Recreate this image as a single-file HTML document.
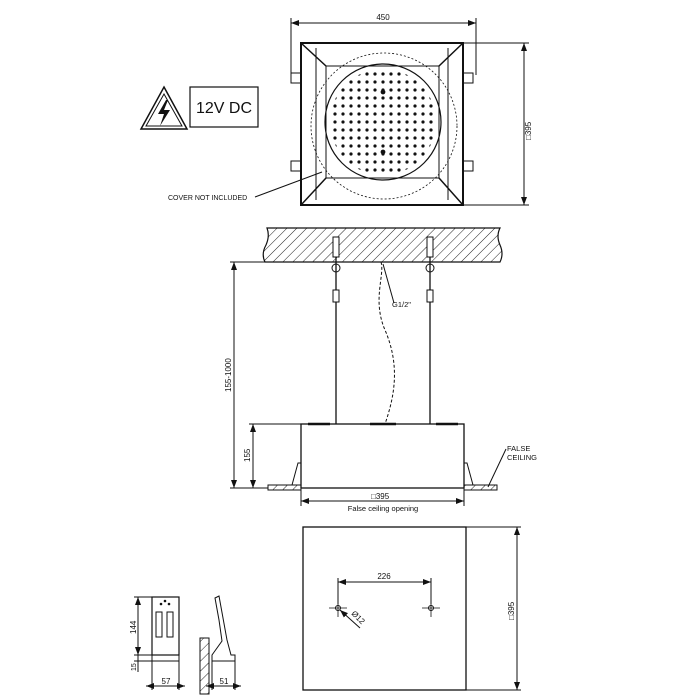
<!DOCTYPE html>
<html><head><meta charset="utf-8"><style>
html,body{margin:0;padding:0;background:#fff}
svg{display:block}
text{font-family:"Liberation Sans",sans-serif;fill:#111}
</style></head><body>
<svg width="700" height="700" viewBox="0 0 700 700" xmlns="http://www.w3.org/2000/svg">
<defs>
<pattern id="h" width="7" height="7" patternUnits="userSpaceOnUse" patternTransform="rotate(45)">
<line x1="0" y1="0" x2="0" y2="7" stroke="#222" stroke-width="1"/></pattern>
<pattern id="dp" width="8" height="8" patternUnits="userSpaceOnUse" x="379" y="118">
<circle cx="4" cy="4" r="1.6" fill="#111"/></pattern>
<clipPath id="cc"><circle cx="383" cy="122" r="53"/></clipPath>
<marker id="a" markerWidth="8" markerHeight="6" refX="8" refY="3" orient="auto-start-reverse"><path d="M0,0 L8,3 L0,6z" fill="#111"/></marker>
</defs>
<rect x="328" y="67" width="112" height="112" fill="url(#dp)" clip-path="url(#cc)"/>
<g stroke="#111" fill="none" stroke-width="1">
<line x1="291" y1="23" x2="476" y2="23" marker-start="url(#a)" marker-end="url(#a)"/>
<line x1="291" y1="18" x2="291" y2="75"/><line x1="476" y1="18" x2="476" y2="75"/>
<rect x="301" y="43" width="162" height="162" stroke-width="2"/>
<rect x="326" y="66" width="113" height="112"/>
<line x1="301" y1="43" x2="326" y2="66" stroke-width="1.5"/><line x1="463" y1="43" x2="439" y2="66" stroke-width="1.5"/>
<line x1="301" y1="205" x2="326" y2="178" stroke-width="1.5"/><line x1="463" y1="205" x2="439" y2="178" stroke-width="1.5"/>
<line x1="316" y1="48" x2="316" y2="200"/><line x1="448" y1="48" x2="448" y2="200"/>
<circle cx="384" cy="126" r="73" stroke-dasharray="2,2" stroke-width="0.8"/>
<circle cx="383" cy="122" r="58" stroke-width="1.2"/>
<rect x="291" y="73" width="10" height="10"/><rect x="291" y="161" width="10" height="10"/>
<rect x="463" y="73" width="10" height="10"/><rect x="463" y="161" width="10" height="10"/>
<line x1="463" y1="43" x2="529" y2="43"/><line x1="463" y1="205" x2="529" y2="205"/>
<line x1="524" y1="43" x2="524" y2="205" marker-start="url(#a)" marker-end="url(#a)"/>
<line x1="255" y1="197" x2="322" y2="172"/>
<polygon points="164,87 187,129 141,129" stroke-width="1.5"/>
<polygon points="164,94 182,126 146,126"/>
<rect x="190" y="87" width="68" height="40" stroke-width="1.2"/>
</g>
<g fill="#111"><circle cx="383" cy="92" r="2.4"/><circle cx="383" cy="152" r="2.4"/></g>
<path d="M166,100 L158,114 L164,114 L160,126 L170,110 L164,110 L168,100z" fill="#111"/>
<text x="224" y="113" font-size="16" text-anchor="middle">12V DC</text>
<text x="383" y="20" font-size="8" text-anchor="middle">450</text>
<text x="0" y="0" font-size="8" transform="translate(531,140) rotate(-90)">□395</text>
<text x="168" y="200" font-size="7">COVER NOT INCLUDED</text>
<path d="M267,228 L500,228 Q496,236 500,245 Q504,254 500,262 L265,262 Q261,254 266,245 Q270,236 267,228z" fill="url(#h)" stroke="#111" stroke-width="1.2"/>
<g stroke="#111" fill="none" stroke-width="1">
<line x1="230" y1="262" x2="265" y2="262"/>
<line x1="234" y1="262" x2="234" y2="488" marker-start="url(#a)" marker-end="url(#a)"/>
<line x1="249" y1="424" x2="301" y2="424"/>
<line x1="253" y1="424" x2="253" y2="488" marker-start="url(#a)" marker-end="url(#a)"/>
<line x1="230" y1="488" x2="268" y2="488"/>
<line x1="336" y1="240" x2="336" y2="424" stroke-width="1.3"/>
<line x1="430" y1="240" x2="430" y2="424" stroke-width="1.3"/>
<rect x="333" y="237" width="6" height="20" fill="#fff"/><rect x="427" y="237" width="6" height="20" fill="#fff"/>
<circle cx="336" cy="268" r="4"/><circle cx="430" cy="268" r="4"/>
<rect x="333" y="290" width="6" height="12" fill="#fff"/><rect x="427" y="290" width="6" height="12" fill="#fff"/>
<path d="M381,262 C385,275 372,300 385,330 C400,365 395,395 385,424" stroke-dasharray="3,2"/>
<line x1="383" y1="264" x2="394" y2="303"/>
<rect x="301" y="424" width="163" height="64" stroke-width="1.3"/>
<path d="M308,424h22M370,424h26M436,424h22" stroke-width="2.5"/>
<rect x="268" y="485" width="33" height="5" fill="url(#h)"/><rect x="464" y="485" width="33" height="5" fill="url(#h)"/>
<path d="M292,485 L298,463 L301,463 M473,485 L467,463 L464,463"/>
<line x1="301" y1="488" x2="301" y2="506"/><line x1="464" y1="488" x2="464" y2="506"/>
<line x1="301" y1="501" x2="464" y2="501" marker-start="url(#a)" marker-end="url(#a)"/>
<line x1="488" y1="487" x2="506" y2="449"/>
<rect x="303" y="527" width="163" height="163" stroke-width="1.3"/>
<line x1="466" y1="527" x2="521" y2="527"/><line x1="466" y1="690" x2="521" y2="690"/>
<line x1="517" y1="527" x2="517" y2="690" marker-start="url(#a)" marker-end="url(#a)"/>
<line x1="338" y1="578" x2="338" y2="604"/><line x1="431" y1="578" x2="431" y2="604"/>
<line x1="338" y1="582" x2="431" y2="582" marker-start="url(#a)" marker-end="url(#a)"/>
<circle cx="338" cy="608" r="2.5"/><circle cx="431" cy="608" r="2.5"/>
<path d="M329,608h18M338,599v18M422,608h18M431,599v18" stroke-width="0.8"/>
<line x1="360" y1="628" x2="340" y2="610" marker-end="url(#a)"/>
<rect x="152" y="597" width="27" height="58" stroke-width="1.2"/>
<rect x="152" y="655" width="27" height="6"/>
<rect x="156" y="612" width="6" height="25"/><rect x="167" y="612" width="6" height="25"/>
<line x1="134" y1="597" x2="152" y2="597"/><line x1="134" y1="655" x2="152" y2="655"/><line x1="134" y1="661" x2="152" y2="661"/>
<line x1="138" y1="597" x2="138" y2="655" marker-start="url(#a)" marker-end="url(#a)"/>
<line x1="138" y1="655" x2="138" y2="672"/>
<line x1="152" y1="661" x2="152" y2="690"/><line x1="179" y1="661" x2="179" y2="690"/>
<line x1="146" y1="686" x2="185" y2="686" marker-start="url(#a)" marker-end="url(#a)"/>
<path d="M215,598 L219,596 L227,640 L231,655 L235,655 L235,661 L212,661 L212,655 L222,641 L219,620z"/>
<rect x="200" y="638" width="9" height="56" fill="url(#h)"/>
<line x1="212" y1="661" x2="212" y2="690"/><line x1="235" y1="661" x2="235" y2="690"/>
<line x1="206" y1="686" x2="241" y2="686" marker-start="url(#a)" marker-end="url(#a)"/>
</g>
<g fill="#111">
<circle cx="161" cy="604" r="1.3"/><circle cx="165" cy="601" r="1.3"/><circle cx="169" cy="604" r="1.3"/>
</g>
<text x="0" y="0" font-size="8" transform="translate(231,392) rotate(-90)">155-1000</text>
<text x="0" y="0" font-size="8" transform="translate(250,462) rotate(-90)">155</text>
<text x="392" y="307" font-size="7.5">G1/2"</text>
<text x="371" y="499" font-size="8">□395</text>
<text x="383" y="511" font-size="7.5" text-anchor="middle">False ceiling opening</text>
<text x="507" y="451" font-size="7.5">FALSE</text>
<text x="507" y="460" font-size="7.5">CEILING</text>
<text x="384" y="579" font-size="8" text-anchor="middle">226</text>
<text x="0" y="0" font-size="8" transform="translate(351,614) rotate(45)">Ø12</text>
<text x="0" y="0" font-size="8" transform="translate(514,620) rotate(-90)">□395</text>
<text x="0" y="0" font-size="8" transform="translate(136,634) rotate(-90)">144</text>
<text x="0" y="0" font-size="7" transform="translate(136,671) rotate(-90)">15</text>
<text x="166" y="684" font-size="8" text-anchor="middle">57</text>
<text x="224" y="684" font-size="8" text-anchor="middle">51</text>
</svg>
</body></html>
